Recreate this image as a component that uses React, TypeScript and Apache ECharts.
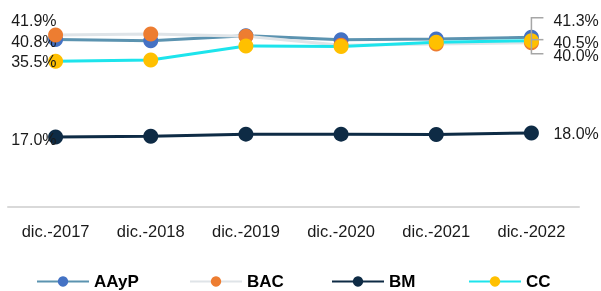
import React, { useEffect, useRef } from "react";
import * as echarts from "echarts";

const categories = ["dic.-2017", "dic.-2018", "dic.-2019", "dic.-2020", "dic.-2021", "dic.-2022"];
const seriesNames = ["AAyP", "BAC", "BM", "CC"];
const aayp = [40.8, 40.5, 41.7, 40.7, 40.9, 41.3];
const bac = [41.9, 42.1, 41.6, 39.4, 39.7, 40.0];
const bm = [17.0, 17.2, 17.7, 17.7, 17.6, 18.0];
const cc = [35.5, 35.8, 39.2, 39.1, 40.1, 40.5];

const lineColors = ["#5b93b0", "#dfe4e8", "#0e2b45", "#1de4ec"];
const markerColors = ["#4472c4", "#ed7d31", "#0e2b45", "#ffc000"];
// label vertical offsets [first, last]
const labelDy: number[][] = [
  [2, -17],
  [-14.5, 13],
  [2, 1],
  [0, 1.5],
];
const legendLeft = [36, 189, 331, 468];
const FONT = "Liberation Sans";

export default function App() {
  const ref = useRef<HTMLDivElement>(null);
  useEffect(() => {
    if (!ref.current) return;
    const chart = echarts.init(ref.current, undefined, { renderer: "svg" });
    const all = [aayp, bac, bm, cc];
    const series = all.map((vals, si) => ({
      name: seriesNames[si],
      type: "line",
      z: 2 + si,
      symbol: "circle",
      symbolSize: 15,
      lineStyle: { color: lineColors[si], width: 3 },
      itemStyle: { color: markerColors[si], borderWidth: 0 },
      data: vals.map((v, i) => {
        const last = i === vals.length - 1;
        const first = i === 0;
        if (!first && !last) return { value: v, label: { show: false } };
        return {
          value: v,
          label: {
            show: true,
            position: first ? "left" : "right",
            distance: 0,
            offset: first ? [8.5, labelDy[si][0]] : [14.5, labelDy[si][1]],
            formatter: (p: any) => p.value.toFixed(1) + "%",
            fontFamily: FONT,
            fontSize: 16,
            lineHeight: 12,
            color: "#1a1a1a",
          },
        };
      }),
    }));
    chart.setOption({
      animation: false,
      grid: { left: 8, right: 22, top: 1.7, bottom: 84.3 },
      xAxis: {
        type: "category",
        data: categories,
        boundaryGap: true,
        axisLine: { show: true, lineStyle: { color: "#d9d9d9", width: 2 } },
        axisTick: { show: false },
        axisLabel: { fontFamily: FONT, fontSize: 16.5, color: "#1a1a1a", margin: 16 },
      },
      yAxis: { type: "value", min: 0, max: 50, show: false, splitLine: { show: false } },
      legend: seriesNames.map((n, i) => ({
        data: [n],
        left: legendLeft[i],
        top: 273,
        padding: 0,
        itemWidth: 52,
        itemHeight: 13,
        itemGap: 5,
        textStyle: { fontFamily: FONT, fontSize: 17, fontWeight: "bold", color: "#000" },
      })),
      series,
    });
    // leader lines for the last-point labels of AAyP, CC and BAC
    const li = categories.length - 1;
    const pA = chart.convertToPixel({ gridIndex: 0 }, [li, aayp[li]]) as number[];
    const pB = chart.convertToPixel({ gridIndex: 0 }, [li, bac[li]]) as number[];
    const pC = chart.convertToPixel({ gridIndex: 0 }, [li, cc[li]]) as number[];
    const yA = pA[1] + labelDy[0][1] - 2.5;
    const yB = pB[1] + labelDy[1][1] - 2;
    const yC = pC[1] + labelDy[3][1] - 2.5;
    const x = pA[0];
    const st = { stroke: "#a6a6a6", lineWidth: 1.5, fill: null };
    chart.setOption({
      graphic: [
        { type: "polyline", z: 100, shape: { points: [[x + 12, yA], [x, yA], [x, yB], [x + 12, yB]] }, style: st },
        { type: "polyline", z: 100, shape: { points: [[x, yC], [x + 12, yC]] }, style: st },
      ],
    });
    return () => chart.dispose();
  }, []);
  return <div ref={ref} style={{ position: "fixed", left: 0, top: 0, width: 601, height: 291 }} />;
}
